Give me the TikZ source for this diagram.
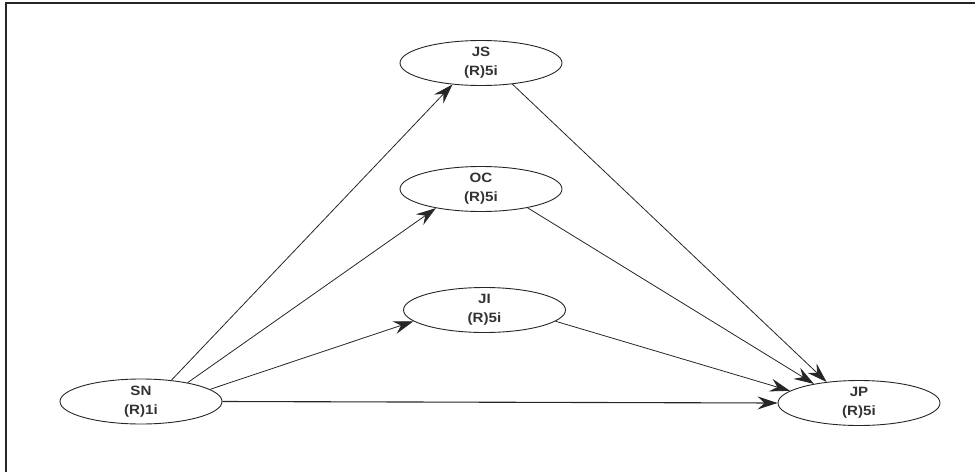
\documentclass[tikz,border=0pt]{standalone}
\usepackage{fontspec}
\newfontfamily\lblfont[FakeStretch=1.12]{Liberation Sans}
\usetikzlibrary{shapes.geometric,arrows.meta}
\tikzset{
  var/.style={ellipse, draw=black!85, line width=0.9pt, minimum width=162pt, minimum height=45pt,
    inner sep=0pt, align=center, font=\lblfont\bfseries\fontsize{13.5}{19}\selectfont, text=black!80},
  path/.style={draw=black!85, line width=0.8pt, -{Stealth[length=20pt,width=13pt,inset=7pt]}},
  frameline/.style={draw=black!85, line width=2pt}
}
\begin{document}
\begin{tikzpicture}[x=1pt,y=-1pt]
\useasboundingbox (0,0) rectangle (975,472);
\draw[frameline] (975,3.3) -- (6.2,3.3) -- (6.2,472);
\node[var] (JS) at (481,63) {JS\\(R)5i};
\node[var] (OC) at (481,189) {OC\\(R)5i};
\node[var] (JI) at (484.5,310) {JI\\(R)5i};
\node[var] (SN) at (141,401.5) {SN\\(R)1i};
\node[var] (JP) at (859,403) {JP\\(R)5i};
\draw[path] (SN.35) -- (JS.-143.8);
\draw[path] (SN.22.8) -- (OC.203.5);
\draw[path] (SN.10.8) -- (JI.189.7);
\draw[path, line width=1.1pt] (SN.0) -- (JP.180.9);
\draw[path] (JS.-34) -- (JP.147.2);
\draw[path] (OC.-22.2) -- (JP.157.4);
\draw[path] (JI.-9.2) -- (JP.170.9);
\end{tikzpicture}
\end{document}
